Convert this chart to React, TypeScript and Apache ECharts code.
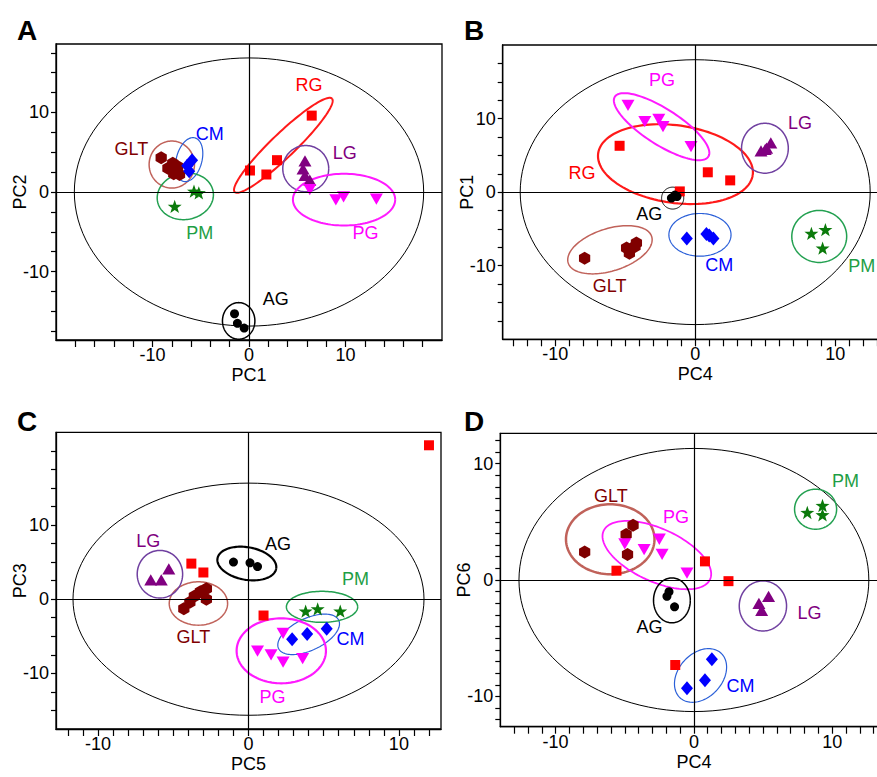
import React, { useEffect, useRef } from 'react';
import * as echarts from 'echarts';

const FONT = '"Liberation Sans", Arial, sans-serif';

// group order used in every panel
const groups = ['RG', 'GLT', 'CM', 'PM', 'LG', 'PG', 'AG'];

// ---------- Panel A : PC1 (x) vs PC2 (y) ----------
const aRG = [[0.1, 2.7], [1.8, 2.2], [2.9, 4.0], [6.5, 9.6]];
const aGLT = [[-9.1, 4.3], [-7.9, 3.6], [-8.4, 3.0], [-7.8, 2.3], [-7.2, 2.2], [-7.4, 3.2]];
const aCM = [[-5.9, 4.0], [-6.4, 3.3], [-6.2, 2.6]];
const aPM = [[-7.7, -1.8], [-5.7, 0.1], [-5.2, -0.1]];
const aLG = [[5.8, 3.9], [5.6, 2.9], [5.8, 2.1], [6.3, 1.5]];
const aPG = [[6.3, 0.3], [9.0, -1.0], [9.8, -0.6], [13.2, -0.9]];
const aAG = [[-1.5, -15.3], [-1.2, -16.5], [-0.5, -17.1]];
// ellipses: [cx, cy, ux, uy, vx, vy]  (centre + two conjugate semi-axes, data units)
const aT2 = [0, 0, 18.1, 0, 0, 16.85];
const aEllipses = [
  [3.56, 5.87, 5.04, 5.87, 0.86, -1.09],
  [-8.0, 3.45, 2.35, 0, 0, 2.95],
  [-6.2, 4.07, 0.6, 2.73, 1.28, -0.42],
  [-6.6, -0.54, 2.87, 0.7, 0.5, -2.85],
  [5.88, 2.94, 2.38, 0, 0, 2.9],
  [9.85, -0.96, 5.3, 0, 0, 3.25],
  [-1.07, -16.2, 1.68, 0, 0, 2.3],
];
const aLabels = [[6.22, 13.42], [-12.19, 5.46], [-4.07, 7.35], [-5.11, -5.11], [9.92, 4.91], [12.06, -5.11], [2.77, -13.41]];

// ---------- Panel B : PC4 (x) vs PC1 (y) ----------
const bRG = [[-5.4, 6.3], [0.9, 2.7], [2.5, 1.6], [-1.1, 0.1]];
const bGLT = [[-7.9, -9.0], [-4.9, -7.6], [-4.3, -7.4], [-4.7, -8.3], [-4.2, -6.9]];
const bCM = [[-0.6, -6.3], [0.8, -5.7], [1.3, -6.3], [1.0, -5.9]];
const bPM = [[8.3, -5.6], [9.3, -5.1], [9.1, -7.6]];
const bLG = [[4.7, 5.6], [5.1, 6.0], [5.4, 6.7], [5.0, 5.8]];
const bPG = [[-4.8, 11.8], [-3.6, 9.6], [-2.6, 9.9], [-2.3, 8.9], [-0.3, 6.2]];
const bAG = [[-1.7, -0.8], [-1.45, -0.4], [-1.3, -0.6]];
const bT2 = [0, 0, 12.5, 0, 0, 18];
const bEllipses = [
  [-1.41, 3.81, 5.52, -1.48, -0.39, -5.22],
  [-6.09, -7.83, 2.98, 1.8, 0.46, -2.74],
  [0.34, -5.8, 2.22, 0, 0, 2.9],
  [8.86, -6.02, 1.96, 0, 0, 3.53],
  [4.98, 5.97, 1.67, 0, 0, 3.39],
  [-2.4, 8.9, 3.34, -4.07, -0.69, -2.05],
  [-1.61, -0.81, 0.79, 0, 0, 1.49],
];
const bLabels = [[-8.09, 2.66], [-6.11, -12.81], [1.71, -9.96], [11.9, -10.09], [7.48, 9.36], [-2.38, 15.24], [-3.29, -2.94]];

// ---------- Panel C : PC5 (x) vs PC3 (y) ----------
const cRG = [[-3.8, 4.8], [-3.0, 3.6], [1.0, -2.2], [12.0, 20.75]];
const cGLT = [[-4.3, -1.3], [-3.9, -0.4], [-3.6, 0.4], [-3.2, 1.0], [-2.8, 1.4], [-2.8, 0.0]];
const cCM = [[2.9, -5.4], [3.9, -4.7], [5.2, -4.0]];
const cPM = [[3.8, -1.6], [4.6, -1.3], [6.1, -1.6]];
const cLG = [[-6.5, 2.6], [-5.8, 2.6], [-5.3, 4.1]];
const cPG = [[2.3, -4.6], [0.6, -7.0], [1.5, -7.5], [2.3, -8.5], [3.6, -8.0]];
const cAG = [[-1.0, 5.0], [0.1, 4.9], [0.6, 4.4]];
const cT2 = [0, 0, 11.67, 0, 0, 15.65];
const cEllipses = [
  null,
  [-3.33, -0.58, 1.94, 0, 0, 2.92],
  [4.0, -4.74, 2.0, 1.91, 0.456, -1.95],
  [4.89, -1.03, 2.37, 0, 0, 2.09],
  [-5.89, 3.37, 1.51, 0, 0, 3.21],
  [2.18, -6.96, 2.97, 0, 0, 4.38],
  [-0.11, 4.81, 1.95, -0.7, -0.19, -2.16],
];
const cLabels = [null, [-3.67, -5.08], [6.78, -5.39], [7.11, 2.7], [-6.67, 7.86], [1.6, -13.17], [1.96, 7.41]];

// ---------- Panel D : PC4 (x) vs PC6 (y) ----------
const dRG = [[-5.6, 0.8], [0.8, 1.6], [2.5, -0.1], [-1.35, -7.3]];
const dGLT = [[-7.9, 2.4], [-4.4, 4.7], [-4.9, 3.9], [-4.8, 2.2]];
const dCM = [[-0.5, -9.3], [0.8, -8.6], [1.3, -6.8]];
const dPM = [[8.2, 5.8], [9.3, 6.4], [9.3, 5.6]];
const dLG = [[4.7, -2.0], [5.4, -1.4], [4.9, -2.6]];
const dPG = [[-5.0, 3.1], [-3.6, 2.6], [-2.5, 3.5], [-2.3, 2.2], [-0.5, 0.6]];
const dAG = [[-1.8, -1.0], [-1.95, -1.4], [-1.4, -2.3]];
const dT2 = [0, 0, 12.65, 0, 0, 11.3];
const dEllipses = [
  null,
  [-6.05, 3.5, 3.2, 0, 0, 3.0],
  [0.48, -8.2, 1.47, 1.93, 1.18, -1.26],
  [8.8, 6.08, 1.52, 0, 0, 1.72],
  [4.99, -2.23, 1.71, 0, 0, 2.15],
  [-2.68, 2.14, 3.85, -2.08, -0.79, -2.07],
  [-1.59, -1.75, 1.33, 0, 0, 1.93],
];
const dLabels = [null, [-6.0, 7.22], [3.37, -9.11], [10.96, 8.51], [8.36, -2.86], [-1.3, 5.45], [-3.21, -4.01]];

// ---------- axes ----------
const axisNames = [['PC1', 'PC2'], ['PC4', 'PC1'], ['PC5', 'PC3'], ['PC4', 'PC6']];
const xLabelValues = [[-10, 0, 10], [-10, 0, 10], [-10, 0, 10], [-10, 0, 10]];
const yLabelValues = [[-10, 0, 10], [-10, 0, 10], [-10, 0, 10], [-10, 0, 10]];
const xExtents = [[-20, 20], [-13.75, 13.75], [-12.8, 12.8], [-14, 14]];
const yExtents = [[-18.6, 18.6], [-20, 20], [-17.5, 22.5], [-12.6, 12.6]];
const xTickSteps = [2, 1, 1, 1];
const yTickSteps = [2.5, 2.5, 2.5, 1];
const panelLetters = ['A', 'B', 'C', 'D'];

const markerColor: Record<string, string> = {
  RG: '#ff0000', GLT: '#800000', CM: '#0000ff', PM: '#0b7a0b', LG: '#800080', PG: '#ff00ff', AG: '#000000',
};
const labelColor: Record<string, string> = {
  RG: '#ff0000', GLT: '#800000', CM: '#0000ff', PM: '#1e9e45', LG: '#800080', PG: '#ff00ff', AG: '#000000',
};
const ellipseColor: Record<string, string> = {
  RG: '#ff1a1a', GLT: '#c0625a', CM: '#2a5fd8', PM: '#22a050', LG: '#7040a0', PG: '#ff1aff', AG: '#000000',
};
const ellipseWidth = [
  { RG: 2, GLT: 1.5, CM: 1.2, PM: 1.5, LG: 1.5, PG: 2, AG: 1.5 },
  { RG: 2.2, GLT: 1.5, CM: 1.2, PM: 1.5, LG: 1.5, PG: 2, AG: 1 },
  { RG: 2, GLT: 1.5, CM: 1.2, PM: 1.5, LG: 1.5, PG: 2.2, AG: 2.2 },
  { RG: 2, GLT: 2.5, CM: 1.2, PM: 1.5, LG: 1.5, PG: 1.8, AG: 1.5 },
];
const symbols: Record<string, string> = {
  RG: 'rect',
  GLT: 'path://M0,-10L8.66,-5L8.66,5L0,10L-8.66,5L-8.66,-5Z',
  CM: 'diamond',
  PM: 'path://M0,-10L2.35,-3.24L9.51,-3.09L3.8,1.24L5.88,8.09L0,4L-5.88,8.09L-3.8,1.24L-9.51,-3.09L-2.35,-3.24Z',
  LG: 'path://M0,-8.66L10,8.66L-10,8.66Z',
  PG: 'path://M-10,-8.66L10,-8.66L0,8.66Z',
  AG: 'circle',
};
const symbolSizes: Record<string, number | number[]> = {
  RG: 10, GLT: 13, CM: [12, 14], PM: 14, LG: 13, PG: 13, AG: 9,
};
const drawOrder = ['RG', 'GLT', 'CM', 'PM', 'LG', 'PG', 'AG'];

const gridRects = [
  { left: 56, top: 44, width: 386, height: 296 },
  { left: 502.7, top: 45, width: 385, height: 294.3 },
  { left: 56, top: 432.3, width: 385, height: 296.7 },
  { left: 500.3, top: 433.3, width: 387.2, height: 293.4 },
];

function steps(min: number, max: number, step: number) {
  const out: number[] = [];
  const start = Math.ceil((min + 1e-9) / step) * step;
  for (let v = start; v < max - 1e-9; v += step) out.push(Math.round(v * 1000) / 1000);
  return out;
}

export default function App() {
  const ref = useRef<HTMLDivElement>(null);
  useEffect(() => {
    if (!ref.current) return;
    const chart = echarts.init(ref.current, null, { renderer: 'svg' });
    const panels = [
      { pts: { RG: aRG, GLT: aGLT, CM: aCM, PM: aPM, LG: aLG, PG: aPG, AG: aAG }, t2: aT2, ells: aEllipses, labels: aLabels },
      { pts: { RG: bRG, GLT: bGLT, CM: bCM, PM: bPM, LG: bLG, PG: bPG, AG: bAG }, t2: bT2, ells: bEllipses, labels: bLabels },
      { pts: { RG: cRG, GLT: cGLT, CM: cCM, PM: cPM, LG: cLG, PG: cPG, AG: cAG }, t2: cT2, ells: cEllipses, labels: cLabels },
      { pts: { RG: dRG, GLT: dGLT, CM: dCM, PM: dPM, LG: dLG, PG: dPG, AG: dAG }, t2: dT2, ells: dEllipses, labels: dLabels },
    ];

    const grid: any[] = [];
    const xAxis: any[] = [];
    const yAxis: any[] = [];
    const series: any[] = [];

    panels.forEach((p, gi) => {
      grid.push({ ...gridRects[gi], show: true, borderColor: '#000', borderWidth: 1.3, containLabel: false, outerBoundsMode: 'none' });
      xAxis.push({
        type: 'value', gridIndex: gi, min: xExtents[gi][0], max: xExtents[gi][1],
        name: axisNames[gi][0], nameLocation: 'middle', nameGap: 26, nameMoveOverlap: false,
        nameTextStyle: { fontSize: 18, color: '#000', fontFamily: FONT },
        axisLine: { show: true, onZero: false, lineStyle: { color: '#000', width: 1.3 } },
        axisTick: { show: true, length: 7, inside: false, customValues: steps(xExtents[gi][0], xExtents[gi][1], xTickSteps[gi]), lineStyle: { color: '#000', width: 1.2 } },
        axisLabel: { show: true, customValues: xLabelValues[gi], fontSize: 18, color: '#000', margin: 6, fontFamily: FONT },
        splitLine: { show: false },
      });
      yAxis.push({
        type: 'value', gridIndex: gi, min: yExtents[gi][0], max: yExtents[gi][1],
        name: axisNames[gi][1], nameLocation: 'middle', nameGap: 27, nameMoveOverlap: false,
        nameTextStyle: { fontSize: 18, color: '#000', fontFamily: FONT },
        axisLine: { show: true, onZero: false, lineStyle: { color: '#000', width: 1.3 } },
        axisTick: { show: true, length: 5, inside: false, customValues: steps(yExtents[gi][0], yExtents[gi][1], yTickSteps[gi]), lineStyle: { color: '#000', width: 1.2 } },
        axisLabel: { show: true, customValues: yLabelValues[gi], fontSize: 18, color: '#000', margin: 7, fontFamily: FONT },
        splitLine: { show: false },
      });

      // ellipses (Hotelling T2 + group ellipses)
      const ellData: any[] = [];
      const ellStyle: any[] = [];
      ellData.push(p.t2);
      ellStyle.push({ color: '#000', width: 1 });
      p.ells.forEach((e, k) => {
        if (!e) return;
        ellData.push(e);
        const g = groups[k];
        ellStyle.push({ color: ellipseColor[g], width: (ellipseWidth[gi] as any)[g] });
      });
      series.push({
        type: 'custom', name: 'ellipses' + gi, xAxisIndex: gi, yAxisIndex: gi, z: 2,
        silent: true, clip: true,
        encode: { x: 0, y: 1 },
        data: ellData,
        renderItem: (params: any, api: any) => {
          const cx = api.value(0), cy = api.value(1), ux = api.value(2), uy = api.value(3), vx = api.value(4), vy = api.value(5);
          const pts: number[][] = [];
          const N = 120;
          for (let k = 0; k <= N; k++) {
            const t = (k / N) * Math.PI * 2;
            pts.push(api.coord([cx + ux * Math.cos(t) + vx * Math.sin(t), cy + uy * Math.cos(t) + vy * Math.sin(t)]));
          }
          const st = ellStyle[params.dataIndex];
          return { type: 'polyline', shape: { points: pts }, style: { fill: null, stroke: st.color, lineWidth: st.width } };
        },
        markLine: {
          silent: true, symbol: ['none', 'none'], label: { show: false },
          lineStyle: { color: '#000', width: 1.2, type: 'solid' },
          data: [{ xAxis: 0 }, { yAxis: 0 }],
        },
      });

      // markers
      drawOrder.forEach((g) => {
        series.push({
          type: 'scatter', name: g, xAxisIndex: gi, yAxisIndex: gi, z: 4,
          symbol: symbols[g], symbolSize: symbolSizes[g], symbolKeepAspect: true,
          itemStyle: { color: markerColor[g], opacity: 1 },
          data: (p.pts as any)[g],
        });
      });

      // group labels
      const labData: any[] = [];
      p.labels.forEach((l, k) => {
        if (!l) return;
        labData.push({ value: l, name: groups[k] });
      });
      series.push({
        type: 'custom', name: 'labels' + gi, xAxisIndex: gi, yAxisIndex: gi, z: 5, silent: true, clip: false,
        encode: { x: 0, y: 1 },
        data: labData,
        renderItem: (params: any, api: any) => {
          const pt = api.coord([api.value(0), api.value(1)]);
          const name = labData[params.dataIndex].name;
          return {
            type: 'text', x: pt[0], y: pt[1],
            style: { text: name, fill: labelColor[name], fontSize: 18, fontFamily: FONT, align: 'center', verticalAlign: 'middle' },
          };
        },
      });
    });

    const graphic = panelLetters.map((t, i) => ({
      type: 'text',
      left: i % 2 === 0 ? 17 : 464,
      top: i < 2 ? 16 : 407,
      style: { text: t, fill: '#000', font: `bold 28px ${FONT}` },
    }));

    chart.setOption({
      animation: false,
      backgroundColor: '#fff',
      grid, xAxis, yAxis, series, graphic,
    });
    return () => chart.dispose();
  }, []);
  return <div ref={ref} style={{ position: 'fixed', left: 0, top: 0, width: 877, height: 777, background: '#fff' }} />;
}
